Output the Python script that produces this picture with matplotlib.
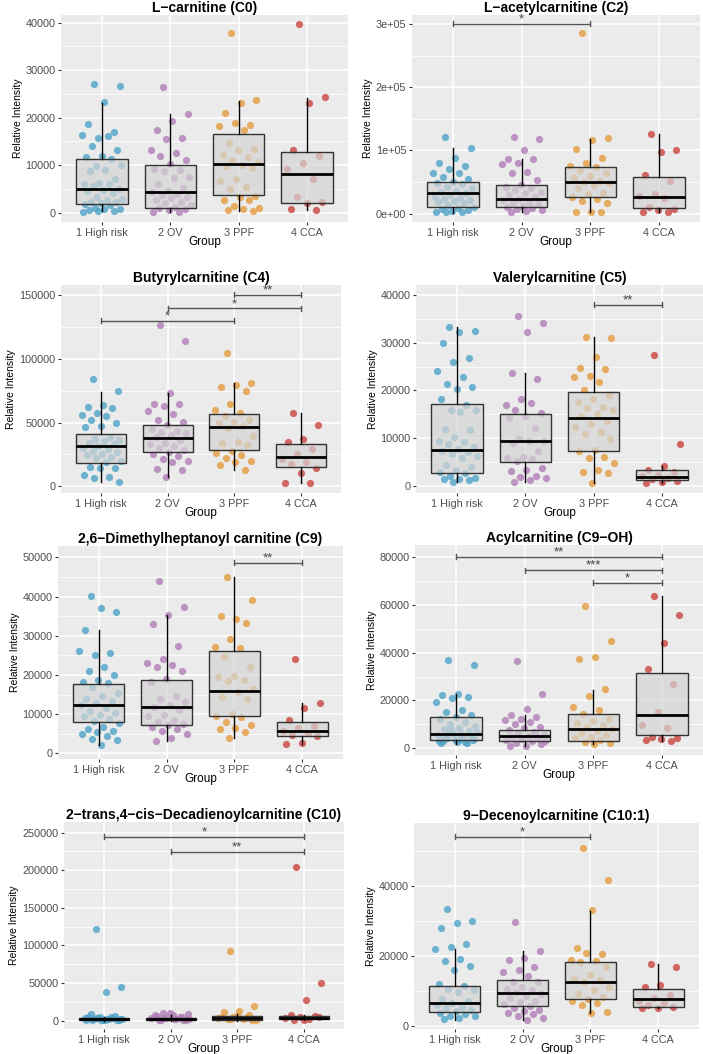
import numpy as np
import matplotlib
matplotlib.use("Agg")
import matplotlib.pyplot as plt
from matplotlib.ticker import FixedLocator

plt.rcParams['font.family'] = ['Liberation Sans', 'DejaVu Sans']

groups = ['1 High risk', '2 OV', '3 PPF', '4 CCA']
colors = ['#4FA3C9', '#B07DB6', '#E39C3E', '#C9453F']

# ---- L-carnitine (C0)
c0_hr = [27000, 26600, 23300, 18700, 16900, 15700, 16300, 16100, 14000, 13200, 11800, 11700, 11300,
         9800, 10000, 9000, 8700, 7000, 6300, 6000, 5900, 5500, 5000, 4800, 4500, 4100, 3200, 2900,
         2600, 2300, 2200, 2000, 1800, 1500, 900, 800, 700, 600, 400, 300, 200]
c0_ov = [26400, 20850, 19300, 17300, 15600, 15500, 13100, 12600, 12000, 11000, 10300, 9100, 8850,
         8700, 7400, 7200, 5900, 5200, 4600, 4350, 4000, 3650, 3300, 2950, 2600, 2250, 1900, 1500,
         1200, 1000, 700, 500, 200, 70]
c0_ppf = [37800, 23650, 23100, 21060, 18400, 18900, 18250, 17340, 14700, 13300, 13200, 12100, 11700,
          11000, 10700, 10000, 9800, 9300, 7100, 6600, 5300, 5000, 3500, 3300, 2700, 2600, 1300, 1050,
          770, 630, 420]
c0_cca = [39660, 24360, 23170, 13200, 12000, 10460, 9060, 7020, 3300, 2250, 2040, 770, 490]
c0_box = [(350, 1750, 5050, 11300, 23170), (70, 1050, 4420, 10040, 20850),
          (420, 3790, 10250, 16640, 23520), (490, 2100, 8070, 12780, 24220)]
c0_sig = []

# ---- L-acetylcarnitine (C2)
c2_hr = [120700, 104400, 88600, 79600, 75400, 70100, 64800, 63800, 58500, 54300, 50100, 49000, 46400,
         42700, 40100, 36400, 34300, 33200, 29500, 26900, 24300, 22700, 21600, 20000, 18500, 16300,
         13700, 11100, 8400, 6900, 5300, 4200, 3200, 2600, 2100]
c2_ov = [120700, 117600, 100200, 87000, 86000, 80700, 78000, 65900, 64800, 52700, 44800, 42700, 40100,
         37400, 34800, 32200, 29000, 25800, 23200, 21100, 19000, 16900, 14800, 12700, 10500, 8400,
         6900, 5300, 3700, 2600]
c2_ppf = [285200, 119700, 116500, 102800, 87500, 79600, 75900, 74300, 69100, 63800, 59600, 55900,
          52200, 50600, 48000, 45300, 40100, 32200, 30600, 26900, 23200, 20000, 17400, 3200, 2600, 2100]
c2_cca = [126000, 100700, 97500, 60600, 51100, 30600, 27400, 24800, 10500, 7900, 5800, 3200, 2100]
c2_box = [(2000, 10000, 33200, 50600, 104400), (2600, 10000, 23200, 44800, 86500),
          (2600, 26900, 50600, 73300, 118100), (2100, 8400, 26900, 57500, 126000)]
c2_sig = [(1, 3, 300000, '*')]

# ---- Butyrylcarnitine (C4)
c4_hr = [83900, 74700, 63500, 61900, 61100, 57200, 56200, 54900, 52000, 49900, 47600, 46500, 38900,
         37400, 36300, 35300, 34200, 33200, 31600, 30000, 29000, 28000, 26900, 25600, 24600, 23300,
         22000, 19900, 18800, 15400, 14600, 14100, 8600, 7600, 6800, 3100]
c4_ov = [126200, 113900, 72900, 64500, 64300, 63000, 59300, 56700, 51700, 50700, 48100, 44700, 43600,
         42900, 41500, 40000, 38400, 36300, 34200, 33200, 31600, 30000, 28500, 27200, 25300, 23800,
         21400, 20100, 19100, 13600, 13100, 7300]
c4_ppf = [104800, 81300, 79700, 77600, 75000, 64300, 59800, 57700, 55400, 52000, 50700, 49400, 47600,
          46000, 39500, 35000, 33700, 32400, 27700, 26400, 24800, 22000, 19900, 19100, 16700, 13100]
c4_cca = [57700, 48100, 36800, 35000, 29000, 25300, 21700, 18800, 17800, 14600, 10700, 2600, 2400]
c4_box = [(3100, 18550, 31600, 41300, 74200), (7300, 26900, 38100, 47800, 72900),
          (12800, 28700, 46500, 56400, 80700), (2400, 15200, 23300, 33400, 57200)]
c4_sig = [(3, 4, 150000, '**'), (2, 4, 139500, '*'), (1, 3, 129600, '*')]

# ---- Valerylcarnitine (C5)
c5_hr = [33300, 32400, 32200, 30000, 26700, 25900, 24000, 22800, 21400, 20800, 20300, 18200, 17000,
         15900, 15800, 15500, 12000, 11700, 10200, 9300, 9100, 8800, 8100, 7700, 7400, 7100, 6700,
         6300, 5900, 4400, 3900, 3400, 3000, 2600, 2100, 1700, 1500, 1400, 1300, 900]
c5_ov = [35700, 34100, 32200, 23600, 22300, 18200, 17000, 17400, 15800, 15200, 14700, 14200, 12100,
         9800, 9500, 9300, 8900, 7300, 6100, 5900, 5600, 5200, 3700, 3400, 3100, 2100, 1800, 1600,
         1300, 800]
c5_ppf = [31100, 30900, 27000, 24600, 24500, 23000, 22900, 21800, 20100, 19000, 18200, 17500, 16600,
          16300, 15900, 15000, 14700, 13600, 13000, 12400, 11300, 10800, 9900, 7500, 7300, 6000, 5900,
          4700, 3400, 2900, 2600, 600]
c5_cca = [27400, 8700, 4100, 3400, 3000, 2300, 2000, 1700, 1500, 1100, 800, 600]
c5_box = [(900, 2700, 7500, 17200, 33200), (800, 5000, 9500, 15100, 23600),
          (600, 7200, 14300, 19700, 31100), (600, 1300, 1900, 3300, 4100)]
c5_sig = [(3, 4, 38000, '**')]

# ---- 2,6-Dimethylheptanoyl carnitine (C9)
c9_hr = [40100, 36000, 37200, 31500, 25500, 25100, 26200, 22100, 21000, 20000, 18700, 18100, 17900,
         17000, 15500, 14500, 13900, 13400, 12800, 12300, 11500, 10900, 10400, 9800, 9400, 8700,
         8200, 7700, 6800, 6100, 5700, 5400, 5000, 4400, 3600, 3400, 2000]
c9_ov = [44000, 37400, 35300, 32900, 27500, 24100, 23100, 22500, 21900, 21100, 18900, 18300, 14500,
         13900, 13200, 12300, 11900, 11100, 9800, 9400, 8500, 7900, 7500, 7100, 6600, 6200, 5700,
         4900, 4000, 3200]
c9_ppf = [44900, 39100, 34200, 35000, 33200, 29100, 27200, 27000, 24500, 22100, 19800, 19400, 18700,
          18500, 16300, 15700, 14300, 13800, 10000, 9600, 9200, 8100, 7200, 6400, 6200, 5400, 3800]
c9_cca = [24000, 12800, 11500, 8500, 7000, 6400, 5800, 5300, 4800, 4400, 2600, 2400]
c9_box = [(2000, 7900, 12300, 17800, 31500), (3200, 7300, 11700, 18800, 35300),
          (3800, 9500, 15900, 26200, 44900), (2400, 4400, 5600, 8000, 12800)]
c9_sig = [(3, 4, 48600, '**')]

# ---- Acylcarnitine (C9-OH)
c9oh_hr = [36900, 34800, 22800, 22400, 21500, 21100, 19400, 15900, 15200, 13800, 12900, 12000, 11000,
           10100, 9400, 8500, 7800, 7000, 6200, 5500, 4800, 4100, 3400, 2700, 2200, 2000, 8000, 6600,
           5900, 5200, 4500, 3800, 3100, 2500, 7300, 4300, 3600, 2900]
c9oh_ov = [36400, 22800, 16500, 13800, 12900, 12300, 11800, 10800, 10100, 9000, 8300, 7600, 6900,
           6200, 5700, 5200, 4800, 4200, 3800, 3400, 2800, 2200, 1700, 1000, 700, 6500, 4500, 3100]
c9oh_ppf = [59600, 44900, 38300, 37200, 24600, 22000, 17100, 15900, 14500, 12000, 11500, 10400, 9700,
            8700, 7800, 7300, 6200, 5500, 4800, 4200, 3400, 2700, 2000, 1700]
c9oh_cca = [63800, 55800, 43900, 33000, 26900, 15000, 9500, 8300, 4800, 4300, 3800, 3400, 2900]
c9oh_box = [(1700, 3600, 5900, 12900, 22500), (700, 3100, 5000, 7600, 14000),
            (1700, 2800, 7800, 14500, 24300), (2900, 5500, 13700, 31300, 63800)]
c9oh_sig = [(1, 4, 80200, '**'), (2, 4, 74700, '***'), (3, 4, 69400, '*')]

# ---- 2-trans,4-cis-Decadienoylcarnitine (C10)
c10_hr = [121500, 45200, 38600, 8900, 6200, 4400, 3100, 2200, 1800, 1300, 900, 5300, 4000, 3500,
          2700, 2000, 1500, 1100, 700, 400, 4800, 3300, 2400, 1600]
c10_ov = [10600, 8900, 7500, 6200, 5300, 4000, 3100, 2200, 1300, 900, 9800, 7000, 4600, 3500, 2600,
          1800, 1100, 600]
c10_ppf = [92200, 20000, 12400, 11100, 7100, 5300, 4000, 2700, 1800, 900, 6200, 4600, 3300, 2200, 1200]
c10_cca = [203900, 50500, 27500, 7100, 6200, 4900, 3500, 2200, 900, 5500, 1500]
c10_box = [(0, 1300, 1800, 3500, 5300), (0, 1300, 2700, 4000, 7500),
           (0, 1300, 3500, 6200, 8900), (900, 1800, 4000, 6600, 7100)]
c10_sig = [(1, 4, 244300, '*'), (2, 4, 224800, '**')]

# ---- 9-Decenoylcarnitine (C10:1)
c101_hr = [33300, 29800, 29300, 28000, 23300, 22600, 21900, 19100, 18500, 17200, 16000, 11900, 11400,
           10500, 10100, 9800, 7600, 7200, 6500, 6000, 5500, 5000, 4600, 4100, 3600, 3300, 2900, 2700,
           2300, 1900]
c101_ov = [29500, 21300, 19500, 18800, 16800, 16000, 15500, 14300, 12500, 12400, 11200, 10600, 10300,
           9800, 9100, 8600, 7900, 7100, 6700, 6200, 5700, 5000, 4600, 4200, 3800, 3400, 2700, 2200,
           1600]
c101_ppf = [50900, 41500, 33000, 22100, 20500, 20900, 18800, 18500, 18100, 16700, 14400, 13500, 13100,
            12600, 11000, 10300, 9100, 8200, 7600, 7100, 6500, 6000, 3900, 3600]
c101_cca = [17700, 16900, 11600, 11200, 8900, 7900, 7200, 6500, 6000, 5500, 5200, 5000]
c101_box = [(1700, 3900, 6500, 11300, 21900), (1600, 5600, 9300, 13200, 21300),
            (3800, 7600, 12600, 18200, 32900), (5000, 5300, 7600, 10600, 17600)]
c101_sig = [(1, 3, 54000, '*')]

# figure layout in pixels (left, right, top, bottom) for each panel
W, H = 703, 1054
panels = [
    ('L\u2212carnitine (C0)', [c0_hr, c0_ov, c0_ppf, c0_cca], c0_box, c0_sig,
     (61, 348, 15, 222), (-2000, 41600), np.arange(0, 40001, 10000), None),
    ('L\u2212acetylcarnitine (C2)', [c2_hr, c2_ov, c2_ppf, c2_cca], c2_box, c2_sig,
     (412, 700, 15, 222), (-13000, 314000), np.arange(0, 300001, 100000),
     ['0e+00', '1e+05', '2e+05', '3e+05']),
    ('Butyrylcarnitine (C4)', [c4_hr, c4_ov, c4_ppf, c4_cca], c4_box, c4_sig,
     (61, 341, 285, 493), (-5200, 157800), np.arange(0, 150001, 50000), None),
    ('Valerylcarnitine (C5)', [c5_hr, c5_ov, c5_ppf, c5_cca], c5_box, c5_sig,
     (416, 703, 285, 493), (-1500, 42100), np.arange(0, 40001, 10000), None),
    ('2,6\u2212Dimethylheptanoyl carnitine (C9)', [c9_hr, c9_ov, c9_ppf, c9_cca], c9_box, c9_sig,
     (58, 343, 546, 759), (-1450, 52900), np.arange(0, 50001, 10000), None),
    ('Acylcarnitine (C9\u2212OH)', [c9oh_hr, c9oh_ov, c9oh_ppf, c9oh_cca], c9oh_box, c9oh_sig,
     (415, 703, 545, 755), (-2900, 85200), np.arange(0, 80001, 20000), None),
    ('2\u2212trans,4\u2212cis\u2212Decadienoylcarnitine (C10)', [c10_hr, c10_ov, c10_ppf, c10_cca],
     c10_box, c10_sig, (64, 344, 822, 1029), (-11000, 264000), np.arange(0, 250001, 50000), None),
    ('9\u2212Decenoylcarnitine (C10:1)', [c101_hr, c101_ov, c101_ppf, c101_cca], c101_box, c101_sig,
     (414, 699, 823, 1029), (-900, 57900), np.arange(0, 40001, 20000), None),
]

fig = plt.figure(figsize=(W / 100, H / 100), dpi=100)
fig.patch.set_facecolor('white')

for title, data, box, sig, (l, r, t, b), ylim, yt, ylabels in panels:
    ax = fig.add_axes([l / W, 1 - b / H, (r - l) / W, (b - t) / H])
    ax.set_facecolor('#EBEBEB')
    for s in ax.spines.values():
        s.set_visible(False)

    # jittered points
    for i, vals in enumerate(data):
        n = len(vals)
        off = ((np.arange(n) * 0.618034 + 0.31) % 1 - 0.5) * 0.6
        ax.scatter(i + 1 + off, vals, s=27, color=colors[i], alpha=0.8, lw=0, zorder=2)

    stats = [dict(whislo=bx[0], q1=bx[1], med=bx[2], q3=bx[3], whishi=bx[4], fliers=[]) for bx in box]
    ax.bxp(stats, positions=[1, 2, 3, 4], widths=0.75, patch_artist=True, showfliers=False,
           showcaps=False, manage_ticks=False,
           boxprops=dict(facecolor=(0.83, 0.83, 0.83, 0.7), edgecolor='#333333', lw=1.0),
           medianprops=dict(color='black', lw=2.0),
           whiskerprops=dict(color='black', lw=1.0), zorder=3)

    # significance brackets
    rng = ylim[1] - ylim[0]
    for x1, x2, y, lab in sig:
        ax.plot([x1, x2], [y, y], color='#555555', lw=1.0, zorder=4)
        for xx in (x1, x2):
            ax.plot([xx, xx], [y - rng * 0.012, y + rng * 0.012], color='#555555', lw=1.0, zorder=4)
        ax.text((x1 + x2) / 2, y - rng * 0.008, lab, ha='center', va='bottom', fontsize=9.5,
                color='#444444', zorder=4)

    ax.set_xlim(0.4, 4.6)
    ax.set_ylim(*ylim)
    ax.set_yticks(yt)
    step = yt[1] - yt[0]
    minors = np.arange(yt[0] - step / 2, ylim[1], step)
    ax.yaxis.set_minor_locator(FixedLocator(minors[(minors > ylim[0]) & (minors < ylim[1])]))
    if ylabels:
        ax.set_yticklabels(ylabels)
    ax.set_xticks([1, 2, 3, 4])
    ax.set_xticklabels(groups)
    ax.grid(True, which='major', color='white', lw=1.1)
    ax.grid(True, which='minor', axis='y', color='white', lw=0.55)
    ax.set_axisbelow(True)
    ax.tick_params(axis='both', which='major', labelsize=7.8, colors='#333333', labelcolor='#4D4D4D',
                   length=2.5, width=0.8, pad=1.5)
    ax.tick_params(axis='y', which='minor', length=0)

    ax.set_title(title, fontsize=10, fontweight='bold', pad=2.5)
    ax.set_xlabel('Group', fontsize=8.5, labelpad=-1)
    ax.set_ylabel('Relative Intensity', fontsize=7.5, labelpad=2)

fig.savefig('out.png', dpi=100)
